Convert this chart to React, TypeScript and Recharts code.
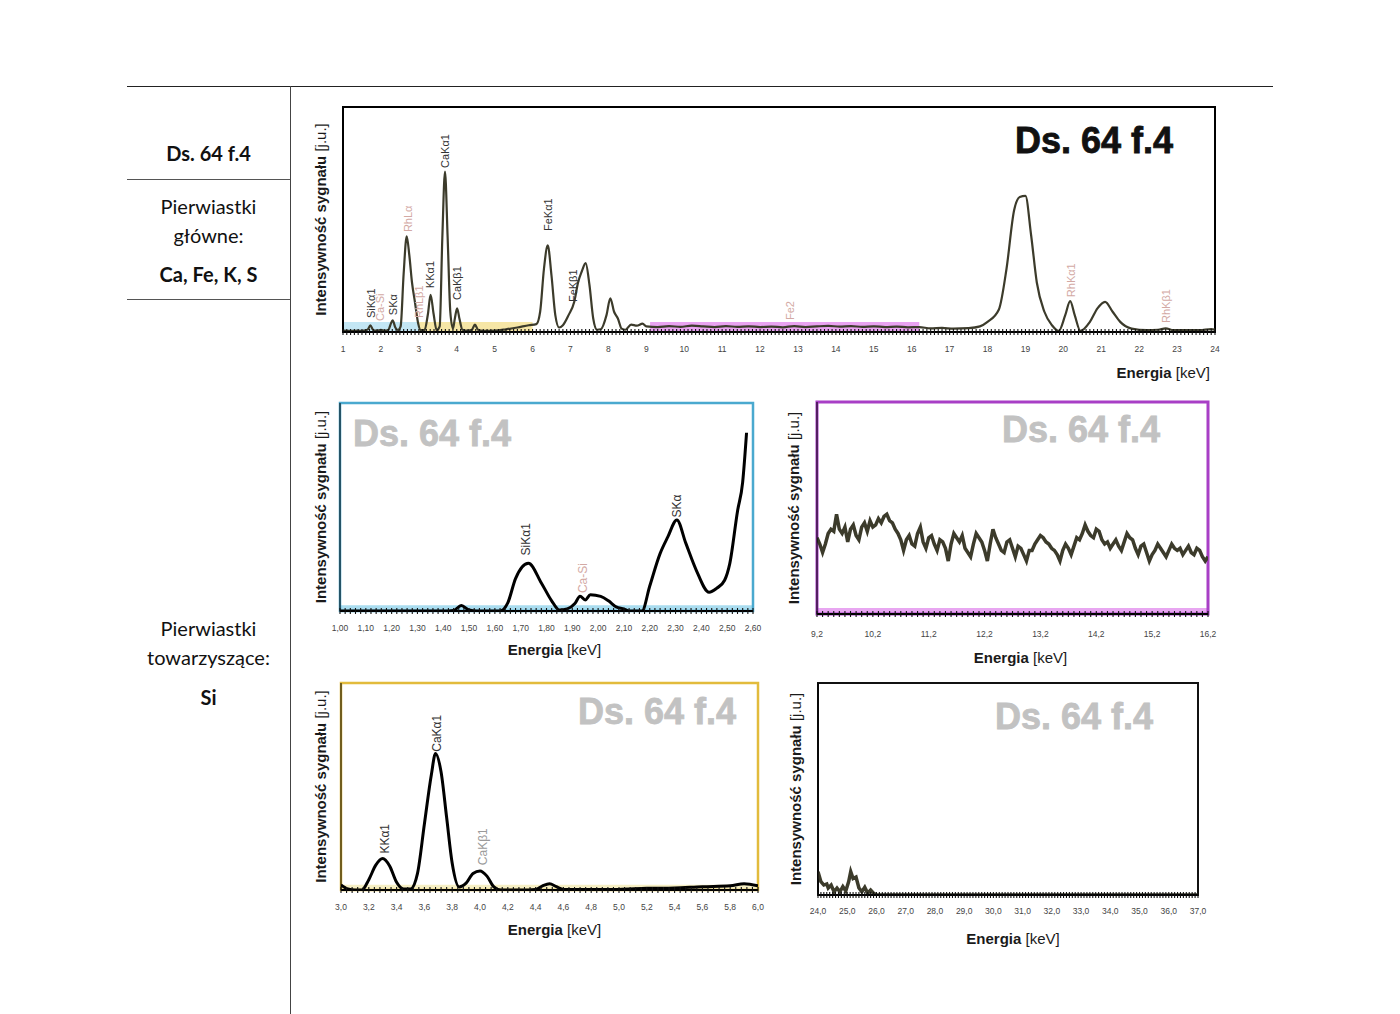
import React from 'react'
import { ComposedChart, Line, XAxis, YAxis, ReferenceArea, ReferenceDot } from 'recharts'

// widmo całe 1-24 keV, [energia, intensywność]
const mainSpectrum: [number, number][] = [
  [1.0, 0.6], [1.2, 0.5], [1.4, 0.6], [1.5, 0.5], [1.6, 0.7], [1.66, 1.2], [1.72, 3.0], [1.8, 0.8],
  [1.9, 0.6], [2.0, 1.0], [2.1, 0.5], [2.2, 1.0], [2.26, 3.6], [2.31, 5.2], [2.38, 2.0], [2.45, 0.8],
  [2.52, 2.5], [2.6, 26], [2.68, 42.5], [2.75, 34], [2.82, 22], [2.9, 13], [2.98, 4], [3.05, 0.8],
  [3.15, 0.8], [3.24, 8], [3.31, 16.5], [3.39, 8], [3.47, 0.8], [3.55, 2.5], [3.62, 42], [3.69, 71.3],
  [3.76, 42], [3.83, 9], [3.9, 1.5], [3.95, 6], [4.01, 10.5], [4.07, 6], [4.15, 1], [4.3, 0.6],
  [4.4, 1], [4.48, 3.3], [4.56, 1], [4.7, 0.5], [5.0, 0.6], [5.3, 1.2], [5.6, 2.0], [5.9, 3.0],
  [6.1, 3.5], [6.2, 9], [6.3, 28], [6.4, 38.5], [6.5, 25], [6.6, 7.5], [6.7, 2], [6.8, 3],
  [6.95, 7.5], [7.1, 13.4], [7.2, 22], [7.3, 27], [7.4, 30.6], [7.5, 21], [7.6, 6], [7.7, 1],
  [7.8, 1.2], [7.95, 7.5], [8.05, 15], [8.15, 9], [8.25, 6], [8.35, 1.5], [8.45, 1], [8.6, 3.3],
  [8.75, 2.8], [8.9, 3.7], [9.0, 2.5], [9.3, 2.2], [9.6, 2.6], [9.9, 2.3], [10.2, 2.8], [10.5, 2.5],
  [10.8, 2.2], [11.1, 2.6], [11.4, 2.3], [11.7, 2.5], [12.0, 2.2], [12.3, 2.4], [12.6, 2.1], [12.9, 2.6],
  [13.2, 2.2], [13.5, 2.5], [13.8, 2.7], [14.1, 2.4], [14.4, 2.6], [14.7, 2.3], [15.0, 2.5], [15.3, 2.2],
  [15.6, 2.4], [15.9, 2.1], [16.2, 2.2], [16.5, 1.6], [16.8, 1.8], [17.1, 1.5], [17.5, 1.7], [17.8, 2.5],
  [18.0, 4.5], [18.3, 10], [18.5, 28], [18.7, 54], [18.85, 60], [19.0, 60.5], [19.15, 43], [19.3, 22],
  [19.5, 9], [19.7, 3], [19.88, 0.5], [20.05, 7.5], [20.18, 13.7], [20.3, 7.5], [20.45, 0.5], [20.7, 4.5],
  [20.9, 10.5], [21.1, 13.4], [21.3, 9], [21.5, 4.5], [21.8, 1.5], [22.2, 0.8], [22.5, 1.0], [22.7, 1.6],
  [22.9, 0.8], [23.2, 0.9], [23.6, 0.8], [23.9, 1.3], [24.0, 1.0],
]

// zakres Si 1,00-2,60 keV
const siSpectrum: [number, number][] = [
  [1.0, 0], [1.1, 0], [1.2, 0], [1.3, 0], [1.4, 0], [1.44, 0.3], [1.47, 2.6], [1.5, 0.5], [1.53, 0],
  [1.62, 0], [1.65, 3.9], [1.68, 15.6], [1.73, 23], [1.78, 13.5], [1.82, 4.9], [1.85, 0.5], [1.88, 1],
  [1.91, 3.6], [1.93, 7.1], [1.95, 5.3], [1.97, 7.8], [2.01, 7], [2.04, 4.9], [2.07, 2], [2.1, 1],
  [2.12, 0], [2.17, 0], [2.2, 12], [2.24, 27.6], [2.27, 35.6], [2.305, 43.8], [2.34, 32.5], [2.38, 19.7],
  [2.43, 9], [2.46, 11], [2.49, 14.8], [2.51, 22.8], [2.54, 48], [2.56, 62], [2.575, 85.7],
]

// tło 9,2-16,2 keV
const bgSpectrum: [number, number][] = [
  [9.2, 36], [9.25, 33], [9.3, 29], [9.35, 33], [9.4, 38], [9.45, 40], [9.5, 39], [9.55, 47], [9.6, 40],
  [9.65, 38], [9.7, 41], [9.75, 34], [9.8, 40], [9.85, 42], [9.9, 37], [9.95, 35], [10.0, 41], [10.05, 43],
  [10.1, 39], [10.15, 44], [10.2, 41], [10.25, 42], [10.3, 45], [10.35, 43], [10.4, 46], [10.45, 47],
  [10.5, 44], [10.55, 43], [10.6, 40], [10.65, 38], [10.7, 35], [10.75, 30], [10.8, 35], [10.85, 37],
  [10.9, 33], [10.95, 32], [11.0, 38], [11.05, 41], [11.1, 34], [11.15, 31], [11.2, 36], [11.25, 37],
  [11.3, 33], [11.35, 30], [11.4, 35], [11.45, 34], [11.5, 31], [11.55, 25], [11.6, 33], [11.65, 38],
  [11.7, 36], [11.75, 34], [11.8, 37], [11.85, 31], [11.9, 29], [11.95, 27], [12.0, 33], [12.05, 38],
  [12.1, 36], [12.15, 34], [12.2, 30], [12.25, 25], [12.3, 33], [12.35, 40], [12.4, 36], [12.45, 33],
  [12.5, 30], [12.55, 29], [12.6, 34], [12.65, 35], [12.7, 31], [12.75, 27], [12.8, 32], [12.85, 31],
  [12.9, 28], [12.95, 25], [13.0, 30], [13.05, 30], [13.1, 33], [13.15, 35], [13.2, 37], [13.25, 36],
  [13.3, 34], [13.35, 33], [13.4, 31], [13.45, 30], [13.5, 28], [13.55, 25], [13.6, 30], [13.65, 33],
  [13.7, 31], [13.75, 28], [13.8, 32], [13.85, 36], [13.9, 35], [13.95, 38], [14.0, 42], [14.05, 39],
  [14.1, 37], [14.15, 36], [14.2, 40], [14.25, 39], [14.3, 35], [14.35, 33], [14.4, 34], [14.45, 31],
  [14.5, 33], [14.55, 35], [14.6, 32], [14.65, 30], [14.7, 34], [14.75, 38], [14.8, 36], [14.85, 35],
  [14.9, 31], [14.95, 28], [15.0, 32], [15.05, 33], [15.1, 29], [15.15, 25], [15.2, 28], [15.25, 30],
  [15.3, 33], [15.35, 31], [15.4, 29], [15.45, 27], [15.5, 30], [15.55, 33], [15.6, 31], [15.65, 30],
  [15.7, 31], [15.75, 28], [15.8, 30], [15.85, 32], [15.9, 29], [15.95, 28], [16.0, 31], [16.05, 30],
  [16.1, 27], [16.15, 25], [16.2, 27],
]

// zakres K/Ca 3,0-6,0 keV
const caSpectrum: [number, number][] = [
  [3.0, 2.5], [3.05, 0.5], [3.1, 0], [3.15, 0], [3.2, 5], [3.25, 12], [3.3, 15.2], [3.35, 11.6],
  [3.4, 3.7], [3.45, 0.5], [3.5, 0.5], [3.55, 7.9], [3.6, 31.9], [3.65, 55.7], [3.68, 66], [3.72, 57],
  [3.76, 35], [3.8, 12.9], [3.85, 1.5], [3.9, 3.3], [3.95, 8], [4.0, 9.2], [4.05, 6.7], [4.1, 1.5],
  [4.15, 0], [4.3, 0], [4.4, 0.3], [4.45, 2], [4.5, 3], [4.55, 1.6], [4.6, 0.3], [4.8, 0.2],
  [5.0, 0.3], [5.2, 0.8], [5.4, 1.0], [5.6, 1.6], [5.8, 2], [5.9, 3], [6.0, 2],
]

// zakres 24-37 keV
const highSpectrum: [number, number][] = [
  [24.0, 11], [24.1, 6.3], [24.2, 4.7], [24.3, 5.2], [24.35, 3.3], [24.45, 4.7], [24.55, 1.5],
  [24.65, 3.3], [24.75, 1.5], [24.85, 4], [24.95, 1.9], [25.05, 6.3], [25.12, 11], [25.2, 7.8],
  [25.3, 8.5], [25.4, 3.3], [25.5, 1.5], [25.6, 3.6], [25.7, 0.8], [25.8, 2.3], [25.9, 0.8], [26.0, 0],
  [27, 0], [28, 0], [29, 0], [30, 0], [31, 0], [32, 0], [33, 0], [34, 0], [35, 0], [36, 0], [37, 0],
]

const mainTicks = [1, 2, 3, 4, 5, 6, 7, 8, 9, 10, 11, 12, 13, 14, 15, 16, 17, 18, 19, 20, 21, 22, 23, 24]
const siTicks = [1.0, 1.1, 1.2, 1.3, 1.4, 1.5, 1.6, 1.7, 1.8, 1.9, 2.0, 2.1, 2.2, 2.3, 2.4, 2.5, 2.6]
const bgTicks = [9.2, 10.2, 11.2, 12.2, 13.2, 14.2, 15.2, 16.2]
const caTicks = [3.0, 3.2, 3.4, 3.6, 3.8, 4.0, 4.2, 4.4, 4.6, 4.8, 5.0, 5.2, 5.4, 5.6, 5.8, 6.0]
const highTicks = [24, 25, 26, 27, 28, 29, 30, 31, 32, 33, 34, 35, 36, 37]

type Peak = { e: number; h: number; text: string; tone?: 'rh' | 'gray' }

const mainPeaks: Peak[] = [
  { e: 1.74, h: 6.2, text: 'SiKα1' },
  { e: 1.98, h: 4.9, text: 'Ca-Si', tone: 'rh' },
  { e: 2.31, h: 7.5, text: 'SKα' },
  { e: 2.71, h: 44.4, text: 'RhLα', tone: 'rh' },
  { e: 3.0, h: 6.2, text: 'RhLβ1', tone: 'rh' },
  { e: 3.3, h: 19.5, text: 'KKα1' },
  { e: 3.69, h: 72.9, text: 'CaKα1' },
  { e: 4.0, h: 14.2, text: 'CaKβ1' },
  { e: 6.41, h: 44.9, text: 'FeKα1' },
  { e: 7.06, h: 13.3, text: 'FeKβ1' },
  { e: 12.8, h: 5.3, text: 'Fe2', tone: 'rh' },
  { e: 20.2, h: 15.5, text: 'RhKα1', tone: 'rh' },
  { e: 22.7, h: 4, text: 'RhKβ1', tone: 'rh' },
]

const siPeaks: Peak[] = [
  { e: 1.72, h: 26.7, text: 'SiKα1' },
  { e: 1.94, h: 8.6, text: 'Ca-Si', tone: 'rh' },
  { e: 2.305, h: 45, text: 'SKα' },
]

const caPeaks: Peak[] = [
  { e: 3.32, h: 17.6, text: 'KKα1' },
  { e: 3.69, h: 66.8, text: 'CaKα1' },
  { e: 4.02, h: 12, text: 'CaKβ1', tone: 'gray' },
]

const FONT = '"Liberation Sans", Arial, sans-serif'
const INK = '#3c3b2b'
const TONES = { rh: '#d3a9a4', gray: '#9a9a9a' }

const steps = (a: number, b: number, s: number) => {
  const out: number[] = []
  for (let v = a; v <= b + s / 2; v += s) out.push(Math.round(v * 1000) / 1000)
  return out
}

const energyTick = (labels: number[], digits: number, dy: number) => (props: any) => {
  const { x, y, payload } = props
  const major = labels.find((l) => Math.abs(l - payload.value) < 1e-6)
  return (
    <g>
      <line x1={x} x2={x} y1={y - 3} y2={y + 3} stroke="#111" strokeWidth={1.1} />
      {major !== undefined && (
        <text x={x} y={y + dy} textAnchor="middle" fontSize={8.5} fill="#444" fontFamily={FONT}>
          {digits === 0 ? String(major) : major.toFixed(digits).replace('.', ',')}
        </text>
      )}
    </g>
  )
}

const energyTitle = (anchor: 'middle' | 'end', dx: number, dy: number) => (props: any) => {
  const { x, y, width } = props.viewBox
  const tx = anchor === 'end' ? x + width + dx : x + width / 2 + dx
  return (
    <text x={tx} y={y + dy} textAnchor={anchor} fontSize={15} fill="#1a1a1a" fontFamily={FONT}>
      <tspan fontWeight="bold">Energia</tspan>
      <tspan> [keV]</tspan>
    </text>
  )
}

const intensityTitle = (cx: number) => (props: any) => {
  const { y, height } = props.viewBox
  const cy = y + height / 2
  return (
    <text x={cx} y={cy} transform={`rotate(-90 ${cx} ${cy})`} textAnchor="middle" dominantBaseline="central"
      fontSize={15} fill="#1a1a1a" fontFamily={FONT}>
      <tspan fontWeight="bold">Intensywność sygnału</tspan>
      <tspan> [j.u.]</tspan>
    </text>
  )
}

const peakText = (text: string, color: string, size: number) => (props: any) => {
  const vb = props.viewBox
  const cx = vb.x + vb.width / 2
  const cy = vb.y + vb.height / 2
  return (
    <text x={cx} y={cy} transform={`rotate(-90 ${cx} ${cy})`} textAnchor="start" dominantBaseline="central"
      fontSize={size} fill={color} fontFamily={FONT}>
      {text}
    </text>
  )
}

type Band = { from: number; to: number; top: number; color: string }

interface SpectrumProps {
  left: number
  top: number
  width: number
  height: number
  margin: { top: number; right: number; left: number; bottom: number }
  domain: [number, number]
  minorStep: number
  majors: number[]
  digits: number
  data: [number, number][]
  stroke: string
  strokeWidth: number
  curve: 'monotone' | 'linear'
  frame: string
  frameWidth: number
  bands: Band[]
  peaks: Peak[]
  peakSize: number
  tickDy: number
  titleAnchor: 'middle' | 'end'
  titleDx: number
  titleDy: number
  yTitleX: number
}

function Spectrum(p: SpectrumProps) {
  const rows = p.data.map(([e, v]) => ({ e, v }))
  const ticks = steps(p.domain[0], p.domain[1], p.minorStep)
  return (
    <div style={{ position: 'absolute', left: p.left, top: p.top }}>
      <ComposedChart width={p.width} height={p.height} data={rows} margin={p.margin} style={{ fontFamily: FONT }}>
        <XAxis dataKey="e" type="number" domain={p.domain} ticks={ticks} interval={0} allowDataOverflow
          tickSize={0} tickMargin={0} tickLine={false} tick={energyTick(p.majors, p.digits, p.tickDy)}
          axisLine={{ stroke: '#000', strokeWidth: 2 }} height={50}
          label={energyTitle(p.titleAnchor, p.titleDx, p.titleDy)} />
        <YAxis type="number" domain={[0, 100]} ticks={[0, 20, 40, 60, 80, 100]} tick={false} tickSize={3}
          tickLine={{ stroke: '#666' }} axisLine={{ stroke: '#000' }} width={30} allowDataOverflow
          label={intensityTitle(p.yTitleX)} />
        {p.bands.map((b, i) => (
          <ReferenceArea key={'b' + i} x1={b.from} x2={b.to} y1={0} y2={b.top} fill={b.color} fillOpacity={1}
            stroke="none" ifOverflow="visible" />
        ))}
        <Line dataKey="v" type={p.curve} stroke={p.stroke} strokeWidth={p.strokeWidth} dot={false}
          isAnimationActive={false} />
        <ReferenceArea x1={p.domain[0]} x2={p.domain[1]} y1={0} y2={100} fill="none" stroke={p.frame}
          strokeWidth={p.frameWidth} ifOverflow="visible" />
        {p.peaks.map((pk) => (
          <ReferenceDot key={pk.text + pk.e} x={pk.e} y={pk.h} r={0} fill="none" stroke="none"
            label={peakText(pk.text, pk.tone ? TONES[pk.tone] : '#333', p.peakSize)} />
        ))}
      </ComposedChart>
    </div>
  )
}

const watermark = (left: number, top: number, color: string) => (
  <div style={{
    position: 'absolute', left, top, fontFamily: FONT, fontWeight: 'bold', fontSize: 36,
    lineHeight: '36px', color, whiteSpace: 'nowrap', WebkitTextStroke: `0.8px ${color}`,
  }}>
    Ds. 64 f.4
  </div>
)

const cellText = (text: string, top: number, bold: boolean) => (
  <div style={{
    position: 'absolute', left: 127, width: 163, top, textAlign: 'center', fontFamily: 'Lato, sans-serif',
    fontSize: 20, lineHeight: '24px', fontWeight: bold ? 'bold' : 'normal', color: '#111',
  }}>
    {text}
  </div>
)

export default function App() {
  return (
    <div style={{ position: 'absolute', left: 0, top: 0, width: 1400, height: 1014, background: '#fff', overflow: 'hidden' }}>
      <div style={{ position: 'absolute', left: 127, top: 86, width: 1146, height: 1, background: '#222' }} />
      <div style={{ position: 'absolute', left: 290, top: 86, width: 1, height: 928, background: '#444' }} />
      <div style={{ position: 'absolute', left: 127, top: 179, width: 163, height: 1, background: '#555' }} />
      <div style={{ position: 'absolute', left: 127, top: 299, width: 163, height: 1, background: '#555' }} />
      {cellText('Ds. 64 f.4', 141, true)}
      {cellText('Pierwiastki', 194, false)}
      {cellText('główne:', 223, false)}
      {cellText('Ca, Fe, K, S', 262, true)}
      {cellText('Pierwiastki', 616, false)}
      {cellText('towarzyszące:', 645, false)}
      {cellText('Si', 685, true)}

      <Spectrum left={300} top={95} width={930} height={295} margin={{ top: 12, right: 15, left: 13, bottom: 8 }}
        domain={[1, 24]} minorStep={0.1} majors={mainTicks} digits={0} data={mainSpectrum}
        stroke={INK} strokeWidth={2.2} curve="monotone" frame="#000" frameWidth={2}
        bands={[
          { from: 1, to: 3.0, top: 4.4, color: '#c3e6f4' },
          { from: 3.0, to: 6.0, top: 4.4, color: '#f6e6a6' },
          { from: 9.1, to: 16.2, top: 4.4, color: '#e9a3f1' },
        ]}
        peaks={mainPeaks} peakSize={11} tickDy={20} titleAnchor="end" titleDx={-5} titleDy={46} yTitleX={20} />

      <Spectrum left={300} top={395} width={465} height={270} margin={{ top: 8, right: 12, left: 10, bottom: 4 }}
        domain={[1.0, 2.6]} minorStep={0.02} majors={siTicks} digits={2} data={siSpectrum}
        stroke="#000" strokeWidth={3} curve="monotone" frame="#4aa9cf" frameWidth={2.5}
        bands={[{ from: 1.0, to: 2.6, top: 2.8, color: '#a9dcef' }]}
        peaks={siPeaks} peakSize={12} tickDy={20} titleAnchor="middle" titleDx={8} titleDy={44} yTitleX={20} />

      <Spectrum left={780} top={395} width={440} height={273} margin={{ top: 7, right: 12, left: 7, bottom: 4 }}
        domain={[9.2, 16.2]} minorStep={0.1} majors={bgTicks} digits={1} data={bgSpectrum}
        stroke={INK} strokeWidth={3.5} curve="linear" frame="#a83fc6" frameWidth={3}
        bands={[{ from: 9.2, to: 16.2, top: 2.8, color: '#e8a6f1' }]}
        peaks={[]} peakSize={12} tickDy={23} titleAnchor="middle" titleDx={8} titleDy={49} yTitleX={13} />

      <Spectrum left={300} top={675} width={470} height={269} margin={{ top: 8, right: 12, left: 11, bottom: 4 }}
        domain={[3.0, 6.0]} minorStep={0.04} majors={caTicks} digits={1} data={caSpectrum}
        stroke="#000" strokeWidth={3} curve="monotone" frame="#e2bb3c" frameWidth={2.5}
        bands={[{ from: 3.0, to: 6.0, top: 2.5, color: '#f6efc4' }]}
        peaks={caPeaks} peakSize={12} tickDy={20} titleAnchor="middle" titleDx={5} titleDy={45} yTitleX={20} />

      <Spectrum left={780} top={675} width={430} height={274} margin={{ top: 8, right: 12, left: 8, bottom: 4 }}
        domain={[24, 37]} minorStep={0.1} majors={highTicks} digits={1} data={highSpectrum}
        stroke={INK} strokeWidth={3.5} curve="linear" frame="#111" frameWidth={2}
        bands={[]} peaks={[]} peakSize={12} tickDy={19} titleAnchor="middle" titleDx={5} titleDy={49} yTitleX={15} />

      {watermark(1015, 123, '#111')}
      {watermark(353, 416, '#c2c2c2')}
      {watermark(1002, 412, '#c2c2c2')}
      {watermark(578, 694, '#c2c2c2')}
      {watermark(995, 699, '#c2c2c2')}
    </div>
  )
}
